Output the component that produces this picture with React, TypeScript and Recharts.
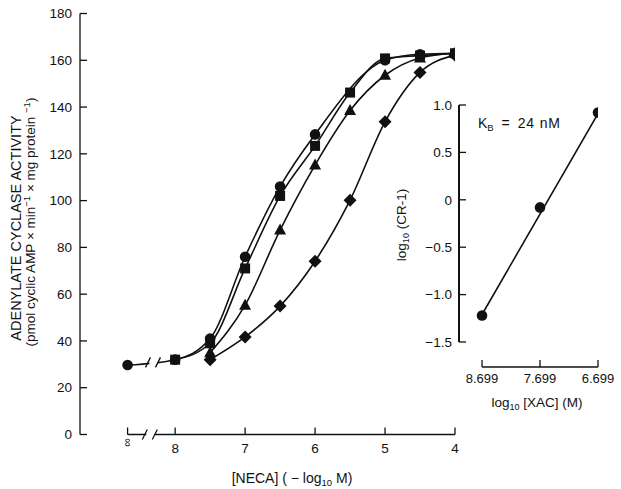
import React from 'react';
import { LineChart, Line, XAxis, YAxis, ReferenceLine, ReferenceDot, Label } from 'recharts';

const FONT = '"Liberation Sans", Arial, Helvetica, sans-serif';
const INK = '#111';

// ---- Main plot: x = log10 [NECA] (M); zero NECA (∞) plotted at INF_X ----
const INF_X = -8.68;
const necaTicks = [INF_X, -8, -7, -6, -5, -4];
const activityTicks = [0, 20, 40, 60, 80, 100, 120, 140, 160, 180];

const ctrlX = [INF_X, -8, -7.5, -7, -6.5, -6, -5, -4.5, -4];
const ctrlY = [29.7, 32, 41, 76, 106, 128.3, 160, 162.6, 163];
const squareX = [-8, -7.5, -7, -6.5, -6, -5.5, -5, -4.5, -4];
const squareY = [32, 39, 71, 102, 123.4, 146.2, 160.8, 162, 163];
const triX = [-7.5, -7, -6.5, -6, -5.5, -5, -4.5, -4];
const triY = [35, 55.3, 87.4, 115.2, 138.5, 153.6, 161, 163];
const diaX = [-7.5, -7, -6.5, -6, -5.5, -5, -4.5, -4];
const diaY = [32, 41.7, 54.9, 74.1, 100.2, 133.7, 154.8, 162.2];

// ---- Inset (Schild plot) ----
const xacX = [8.699, 7.699, 6.699];
const xacTickLabels = ['8.699', '7.699', '6.699'];
const crY = [-1.22, -0.08, 0.92];
const fitX = [8.699, 6.699];
const fitY = [-1.21, 0.91];
const crTicks = [-1.5, -1, -0.5, 0, 0.5, 1];
const crTickLabels = ['−1.5', '−1.0', '−0.5', '0', '0.5', '1.0'];
const INSET_X_DOMAIN: [number, number] = [6.699, 9.096];
const INSET_Y_DOMAIN: [number, number] = [-1.5, 1];

// inset layout
const INSET_LEFT = 380;
const INSET_TOP = 90;
const INSET_W = 241;
const INSET_H = 330;
const INSET_MARGIN = { top: 15, right: 23, bottom: 38, left: 39 };
const INSET_YAXIS_W = 40;
const INSET_XAXIS_H = 40;
const INSET_PLOT_H = INSET_H - INSET_MARGIN.top - INSET_MARGIN.bottom - INSET_XAXIS_H;
const INSET_XAXIS_DROP = 25; // the inset's x axis sits below the y axis' lower end

const zip = (xs: number[], ys: number[]) => xs.map((x, i) => ({ x, y: ys[i] }));
const ctrl = zip(ctrlX, ctrlY);
const squares = zip(squareX, squareY);
const tris = zip(triX, triY);
const dias = zip(diaX, diaY);
const xacPts = zip(xacX, crY);
const fit = zip(fitX, fitY);

// ---- marker shapes ----
const CircleDot = (p: any) => <circle key={p.index} cx={p.cx} cy={p.cy} r={5.3} fill={INK} />;
const SquareDot = (p: any) => <rect key={p.index} x={p.cx - 5} y={p.cy - 5} width={10} height={10} fill={INK} />;
const TriDot = (p: any) => (
  <polygon key={p.index} points={`${p.cx},${p.cy - 6.5} ${p.cx - 6},${p.cy + 4.5} ${p.cx + 6},${p.cy + 4.5}`} fill={INK} />
);
const DiaDot = (p: any) => (
  <polygon key={p.index} points={`${p.cx},${p.cy - 6.5} ${p.cx + 6.5},${p.cy} ${p.cx},${p.cy + 6.5} ${p.cx - 6.5},${p.cy}`} fill={INK} />
);

const BreakMark = (p: any) => (
  <g>
    <rect x={p.cx - 4} y={p.cy - 4} width={8} height={8} fill="#fff" />
    <line x1={p.cx - 8} y1={p.cy + 5} x2={p.cx - 3} y2={p.cy - 5} stroke={INK} strokeWidth={1.3} />
    <line x1={p.cx + 2} y1={p.cy + 5} x2={p.cx + 7} y2={p.cy - 5} stroke={INK} strokeWidth={1.3} />
  </g>
);

const XTick = (p: any) => {
  const v = p.payload.value;
  const isInf = Math.abs(v - INF_X) < 1e-6;
  return (
    <g>
      <line x1={p.x} x2={p.x} y1={p.y} y2={p.y - 7} stroke={INK} strokeWidth={1.3} />
      {isInf ? (
        <text x={0} y={0} transform={`translate(${p.x - 4},${p.y + 8}) rotate(90)`} textAnchor="middle" fontSize={12} fontFamily={FONT} fill={INK}>∞</text>
      ) : (
        <text x={p.x} y={p.y + 18.5} textAnchor="middle" fontSize={13.5} fontFamily={FONT} fill={INK}>{String(Math.abs(v))}</text>
      )}
    </g>
  );
};

const YTick = (p: any) => (
  <g>
    <line x1={p.x} x2={p.x + 7} y1={p.y} y2={p.y} stroke={INK} strokeWidth={1.3} />
    <text x={p.x - 8} y={p.y} dy="0.35em" textAnchor="end" fontSize={13.5} fontFamily={FONT} fill={INK}>{p.payload.value}</text>
  </g>
);

const InsetXTick = (p: any) => {
  const i = xacX.findIndex((v) => Math.abs(v - p.payload.value) < 1e-6);
  const y = p.y + INSET_XAXIS_DROP;
  return (
    <g>
      <line x1={p.x} x2={p.x} y1={y} y2={y - 7} stroke={INK} strokeWidth={1.3} />
      <text x={p.x} y={y + 16} textAnchor="middle" fontSize={13} fontFamily={FONT} fill={INK}>{xacTickLabels[i]}</text>
    </g>
  );
};

const InsetYTick = (p: any) => {
  const i = crTicks.findIndex((v) => Math.abs(v - p.payload.value) < 1e-6);
  return (
    <g>
      <line x1={p.x} x2={p.x + 7} y1={p.y} y2={p.y} stroke={INK} strokeWidth={1.3} />
      <text x={p.x - 7} y={p.y} dy="0.35em" textAnchor="end" fontSize={13.5} fontFamily={FONT} fill={INK}>{crTickLabels[i]}</text>
    </g>
  );
};

const MainYTitle = () => (
  <g fontFamily={FONT} fill={INK}>
    <text transform="translate(21,228) rotate(-90)" textAnchor="middle" fontSize={14.5}>ADENYLATE CYCLASE ACTIVITY</text>
    <text transform="translate(35,222) rotate(-90)" textAnchor="middle" fontSize={13.5}>
      (pmol cyclic AMP  ×  min<tspan dy={-5} fontSize={9.5}>−1</tspan>
      <tspan dy={5}>  ×  mg protein </tspan>
      <tspan dy={-5} fontSize={9.5}>−1</tspan>
      <tspan dy={5}>)</tspan>
    </text>
  </g>
);

const MainXTitle = () => (
  <text x={292} y={483} textAnchor="middle" fontSize={14} fontFamily={FONT} fill={INK}>
    [NECA] ( − log<tspan dy={2.5} fontSize={9.5}>10</tspan>
    <tspan dy={-2.5}> M)</tspan>
  </text>
);

const InsetXTitle = () => (
  <text x={537 - INSET_LEFT} y={407 - INSET_TOP} textAnchor="middle" fontSize={13.5} fontFamily={FONT} fill={INK}>
    log<tspan dy={3} fontSize={9}>10</tspan>
    <tspan dy={-3}> [XAC] (M)</tspan>
  </text>
);

const InsetYTitle = () => (
  <text transform={`translate(${406 - INSET_LEFT},${225 - INSET_TOP}) rotate(-90)`} textAnchor="middle" fontSize={13.5} fontFamily={FONT} fill={INK}>
    log<tspan dy={3} fontSize={9}>10</tspan>
    <tspan dy={-3}> (CR-1)</tspan>
  </text>
);

const KbText = (p: any) => (
  <text x={p.cx} y={p.cy} dy="0.35em" fontSize={14} fontFamily={FONT} fill={INK}>
    K<tspan dy={3} fontSize={9.5}>B</tspan>
    <tspan dy={-3} dx={8}>=</tspan>
    <tspan dx={8} letterSpacing={0.8}>24 nM</tspan>
  </text>
);

const DroppedSegment = (p: any) => (
  <line x1={p.x1} y1={p.y1 + INSET_XAXIS_DROP} x2={p.x2} y2={p.y2 + INSET_XAXIS_DROP} stroke={INK} strokeWidth={1.3} />
);

const lineProps = { type: 'monotone' as const, stroke: INK, strokeWidth: 1.6, isAnimationActive: false, activeDot: false as const };

export default function App() {
  const ctrlBreakY = (ctrlY[0] + ctrlY[1]) / 2;
  const insetAxisX = INSET_LEFT + INSET_MARGIN.left + INSET_YAXIS_W;
  return (
    <div style={{ position: 'absolute', left: 0, top: 0, width: 621, height: 489, background: '#fff' }}>
      <LineChart width={621} height={489} margin={{ top: 13.5, right: 166, bottom: 14.5, left: 30 }}>
        <XAxis
          type="number" dataKey="x" domain={[-9.36, -4]} allowDataOverflow ticks={necaTicks} interval={0}
          axisLine={false} tickLine={false} tickSize={0} tickMargin={0} tick={XTick} height={40}
        >
          <Label content={MainXTitle} />
        </XAxis>
        <YAxis
          type="number" domain={[0, 180]} allowDataOverflow ticks={activityTicks} interval={0} width={50}
          axisLine={{ stroke: INK, strokeWidth: 1.3 }} tickLine={false} tickSize={0} tickMargin={0} tick={YTick}
        >
          <Label content={MainYTitle} />
        </YAxis>
        <ReferenceLine segment={[{ x: INF_X, y: 0 }, { x: -4, y: 0 }]} stroke={INK} strokeWidth={1.3} ifOverflow="visible" />
        <Line data={dias} dataKey="y" {...lineProps} dot={DiaDot} />
        <Line data={tris} dataKey="y" {...lineProps} dot={TriDot} />
        <Line data={squares} dataKey="y" {...lineProps} dot={SquareDot} />
        <Line data={ctrl} dataKey="y" {...lineProps} dot={CircleDot} />
        <ReferenceDot x={-8.355} y={0} ifOverflow="visible" shape={BreakMark} />
        <ReferenceDot x={-8.31} y={ctrlBreakY} ifOverflow="visible" shape={BreakMark} />
      </LineChart>
      <div style={{ position: 'absolute', left: INSET_LEFT, top: INSET_TOP, zIndex: 2 }}>
        <LineChart width={INSET_W} height={INSET_H} margin={INSET_MARGIN}>
          <XAxis
            type="number" dataKey="x" domain={INSET_X_DOMAIN} reversed allowDataOverflow ticks={xacX} interval={0}
            axisLine={false} tickLine={false} tickSize={0} tickMargin={0} tick={InsetXTick} height={INSET_XAXIS_H}
          >
            <Label content={InsetXTitle} />
          </XAxis>
          <YAxis
            type="number" domain={INSET_Y_DOMAIN} allowDataOverflow ticks={crTicks} interval={0} width={INSET_YAXIS_W}
            axisLine={{ stroke: INK, strokeWidth: 1.3 }} tickLine={false} tickSize={0} tickMargin={0} tick={InsetYTick}
          >
            <Label content={InsetYTitle} />
          </YAxis>
          <ReferenceLine
            segment={[{ x: xacX[0], y: INSET_Y_DOMAIN[0] }, { x: xacX[2], y: INSET_Y_DOMAIN[0] }]}
            ifOverflow="visible"
            shape={DroppedSegment}
          />
          <Line data={fit} dataKey="y" {...lineProps} type="linear" dot={false} />
          <Line data={xacPts} dataKey="y" {...lineProps} stroke="none" dot={CircleDot} />
          <ReferenceDot x={8.77} y={0.81} ifOverflow="visible" shape={KbText} />
        </LineChart>
      </div>
      {/* inset y-axis rule (overlay so it stays above the inset's plot layers) */}
      <div
        style={{
          position: 'absolute',
          left: insetAxisX - 0.7,
          top: INSET_TOP + INSET_MARGIN.top,
          width: 1.4,
          height: INSET_PLOT_H,
          background: INK,
          zIndex: 3,
        }}
      />
    </div>
  );
}
